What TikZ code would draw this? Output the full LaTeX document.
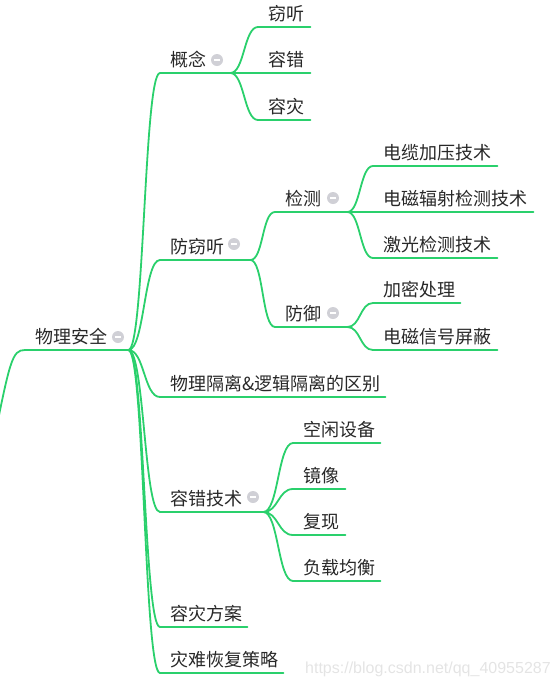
\documentclass[tikz,border=0pt]{standalone}
\usepackage{fontspec}
\newfontfamily\cjk{Noto Sans CJK SC}
\newfontfamily\wmfont{Liberation Sans}
\definecolor{branchgreen}{RGB}{42,208,108}
\definecolor{icongray}{RGB}{208,208,214}
\definecolor{wmgray}{RGB}{228,228,228}
\definecolor{textgray}{RGB}{40,40,40}
\newcommand\mmtext[2]{\makebox[#1][l]{\hspace*{10pt}#2}}
\tikzset{
  branch/.style={draw=branchgreen, line width=1.8pt, line cap=round},
  topic/.style={anchor=south west, inner xsep=0pt, inner ysep=6pt,
    text height=13pt, text depth=0pt, text=textgray,
    font=\cjk\fontsize{18}{18}\selectfont,
    append after command={(\tikzlastnode.south west) edge[branch] (\tikzlastnode.south east)}},
  icon/.style={circle, fill=icongray, minimum size=12pt, inner sep=0pt,
    path picture={\draw[white, line width=1.6pt] ([xshift=-3.2pt]path picture bounding box.center) -- ([xshift=3.2pt]path picture bounding box.center);}}
}
\begin{document}
\begin{tikzpicture}[x=1pt,y=-1pt]
\useasboundingbox (0,0) rectangle (557,686);
% root
\node[topic] (root) at (25,350) {\mmtext{103pt}{物理安全}};
\node[icon] (iroot) at (118,337) {};
\coordinate (tail) at (-8,450);
\draw[branch] (tail) .. controls (10,360) and (12,350) .. (root.south west);
% level 1
\node[topic] (gn) at (160,73) {\mmtext{70pt}{概念}};
\node[icon] (ign) at (217,60) {};
\node[topic] (fq) at (160,260) {\mmtext{90pt}{防窃听}};
\node[icon] (ifq) at (234,244) {};
\node[topic] (gl) at (160,397) {\mmtext{225pt}{物理隔离\&逻辑隔离的区别}};
\node[topic] (rc) at (160,512) {\mmtext{103pt}{容错技术}};
\node[icon] (irc) at (253,497) {};
\node[topic] (rz) at (160,627) {\mmtext{87pt}{容灾方案}};
\node[topic] (zn) at (160,673) {\mmtext{123pt}{灾难恢复策略}};
\foreach \c in {gn,fq,gl,rc,rz,zn}
  \draw[branch] (root.south east) .. controls +(16,0) and +(-16,0) .. (\c.south west);
% 概念 children
\node[topic] (qt) at (258,27) {\mmtext{52pt}{窃听}};
\node[topic] (rcw) at (258,73) {\mmtext{52pt}{容错}};
\node[topic] (rzz) at (258,120) {\mmtext{52pt}{容灾}};
\foreach \c in {qt,rcw,rzz}
  \draw[branch] (gn.south east) .. controls +(14,0) and +(-14,0) .. (\c.south west);
% 防窃听 children
\node[topic] (jc) at (275,212) {\mmtext{72pt}{检测}};
\node[icon] (ijc) at (333,198) {};
\node[topic] (fy) at (275,327) {\mmtext{72pt}{防御}};
\node[icon] (ify) at (333,313) {};
\foreach \c in {jc,fy}
  \draw[branch] (fq.south east) .. controls +(13,0) and +(-13,0) .. (\c.south west);
% 检测 children
\node[topic] (dl) at (373,166) {\mmtext{124pt}{电缆加压技术}};
\node[topic] (dc) at (373,212) {\mmtext{160pt}{电磁辐射检测技术}};
\node[topic] (jg) at (373,258) {\mmtext{124pt}{激光检测技术}};
\foreach \c in {dl,dc,jg}
  \draw[branch] (jc.south east) .. controls +(13,0) and +(-13,0) .. (\c.south west);
% 防御 children
\node[topic] (jm) at (373,303) {\mmtext{87pt}{加密处理}};
\node[topic] (dx) at (373,350) {\mmtext{124pt}{电磁信号屏蔽}};
\foreach \c in {jm,dx}
  \draw[branch] (fy.south east) .. controls +(13,0) and +(-13,0) .. (\c.south west);
% 容错技术 children
\node[topic] (kx) at (293,443) {\mmtext{87pt}{空闲设备}};
\node[topic] (jx) at (293,489) {\mmtext{52pt}{镜像}};
\node[topic] (fx) at (293,535) {\mmtext{52pt}{复现}};
\node[topic] (fz) at (293,581) {\mmtext{87pt}{负载均衡}};
\foreach \c in {kx,jx,fx,fz}
  \draw[branch] (rc.south east) .. controls +(15,0) and +(-15,0) .. (\c.south west);
% watermark
\node[anchor=base west, inner sep=0pt, text=wmgray, font=\wmfont\fontsize{16}{16}\selectfont] (wm) at (305,673) {https://blog.csdn.net/qq\_40955287};
\end{tikzpicture}
\end{document}
